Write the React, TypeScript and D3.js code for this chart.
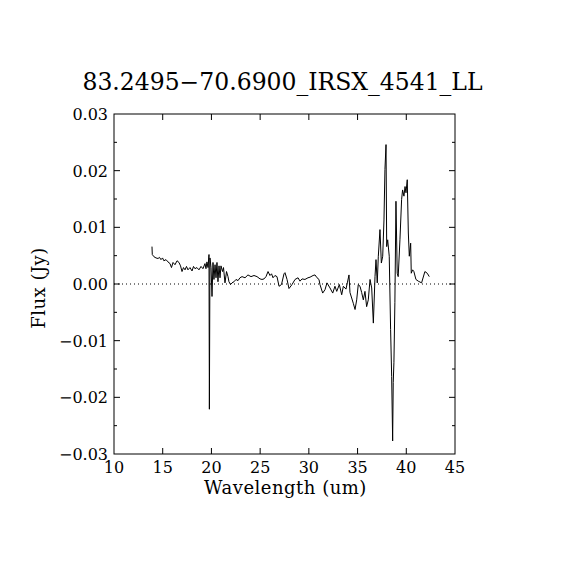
import React from 'react';
import * as d3 from 'd3';

const title = '83.2495\u221270.6900_IRSX_4541_LL';
const xLabel = 'Wavelength (um)';
const yLabel = 'Flux (Jy)';

const xTicks = [10, 15, 20, 25, 30, 35, 40, 45];
const yTicks = [-0.03, -0.02, -0.01, 0, 0.01, 0.02, 0.03];
const yMinorTicks = [-0.025, -0.015, -0.005, 0.005, 0.015, 0.025];

const wavelength = [
  13.90, 13.93, 14.11, 14.31, 14.52, 14.67, 14.82, 14.98, 15.12, 15.34,
  15.54, 15.75, 15.90, 16.06, 16.26, 16.47, 16.67, 16.83, 16.98, 17.13,
  17.29, 17.44, 17.59, 17.80, 18.01, 18.16, 18.31, 18.51, 18.72, 18.93,
  19.13, 19.34, 19.44, 19.54, 19.65, 19.75, 19.79, 19.85, 19.96, 20.06,
  20.16, 20.26, 20.37, 20.47, 20.57, 20.67, 20.78, 20.88, 20.98, 21.14,
  21.24, 21.39, 21.55, 21.70, 21.80, 21.96, 22.11, 22.32, 22.52, 22.73,
  22.93, 23.14, 23.45, 23.75, 24.06, 24.37, 24.68, 24.99, 25.19, 25.40,
  25.60, 25.81, 26.01, 26.17, 26.32, 26.52, 26.73, 26.94, 27.19, 27.45,
  27.55, 27.76, 27.96, 28.27, 28.58, 28.89, 29.09, 29.30, 29.60, 29.91,
  30.12, 30.43, 30.63, 30.84, 31.04, 31.14, 31.42, 31.66, 31.86, 32.17,
  32.45, 32.68, 32.86, 33.13, 33.37, 33.54, 33.81, 33.95, 34.12, 34.22,
  34.56, 34.74, 34.91, 35.07, 35.25, 35.42, 35.59, 35.76, 35.93, 36.10,
  36.28, 36.45, 36.62, 36.79, 36.89, 37.02, 37.13, 37.30, 37.44, 37.58,
  37.71, 37.81, 37.92, 37.99, 38.09, 38.25, 38.39, 38.50, 38.60, 38.66,
  38.73, 38.83, 38.94, 39.07, 39.17, 39.35, 39.52, 39.62, 39.76, 39.87,
  39.97, 40.10, 40.21, 40.31, 40.45, 40.51, 40.65, 40.78, 40.99, 41.23,
  41.57, 41.91, 42.15, 42.36,
];

const flux = [
  0.0066, 0.0052, 0.0048, 0.0046, 0.0045, 0.0047, 0.0043, 0.0046, 0.0041, 0.0043,
  0.0039, 0.0036, 0.0029, 0.0038, 0.0034, 0.0041, 0.0038, 0.0032, 0.0022, 0.0029,
  0.0025, 0.0031, 0.0025, 0.0029, 0.0023, 0.0031, 0.0027, 0.0029, 0.0025, 0.0031,
  0.0027, 0.0036, 0.0027, 0.0039, 0.0029, 0.0052, -0.0221, 0.0046, 0.0029, -0.0022,
  0.0038, 0.0008, 0.0034, 0.0011, 0.0038, 0.0004, 0.0032, 0.0011, 0.0032, 0.0022,
  0.0029, 0.0002, 0.0022, 0.0013, 0.0004, -0.0001, 0.0002, 0.0004, 0.0008, 0.0006,
  0.0011, 0.0013, 0.0011, 0.0016, 0.0013, 0.0015, 0.0013, 0.0009, 0.0008, 0.0009,
  0.0013, 0.0022, 0.0015, 0.0018, 0.0011, 0.0015, 0.0013, -0.0004, -0.0001, 0.0018,
  0.0020, 0.0008, -0.0008, -0.0001, 0.0008, 0.0011, 0.0005, 0.0009, 0.0008, 0.0011,
  0.0012, 0.0015, 0.0016, 0.0011, 0.0008, -0.0001, -0.0016, -0.0010, 0.0002, -0.0007,
  -0.0016, -0.0004, -0.0013, -0.0001, -0.0019, -0.0004, -0.0009, 0.0002, 0.0016, -0.0015,
  -0.0034, -0.0045, -0.0028, -0.0001, -0.0004, -0.0015, -0.0028, -0.0013, -0.0040, -0.0028,
  0.0008, -0.0007, -0.0069, 0.0013, 0.0043, 0.0002, 0.0049, 0.0096, 0.0037, 0.0049,
  0.0113, 0.0202, 0.0246, 0.0066, 0.0078, 0.0049, -0.0080, -0.0163, -0.0277, -0.0174,
  -0.0139, -0.0033, 0.0146, 0.0019, 0.0013, 0.0078, 0.0149, 0.0166, 0.0155, 0.0172,
  0.0161, 0.0184, 0.0090, 0.0049, 0.0072, 0.0019, 0.0025, 0.0022, 0.0008, 0.0005,
  0.0002, 0.0022, 0.0019, 0.0013,
];

const W = 570;
const H = 570;
const margin = { top: 114, right: 115, bottom: 116, left: 114 };
const font = '"DejaVu Serif", serif';

export default function App() {
  const x = d3.scaleLinear().domain([10, 45]).range([margin.left, W - margin.right]);
  const y = d3.scaleLinear().domain([-0.03, 0.03]).range([H - margin.bottom, margin.top]);

  const points = wavelength.map((w, i) => [w, flux[i]] as [number, number]);
  const line = d3.line<[number, number]>()
    .x(d => x(d[0]))
    .y(d => y(d[1]));

  const [x0, x1] = x.range();
  const [yb, yt] = y.range();
  const major = 6;
  const minor = 3;

  return (
    <div style={{ position: 'absolute', left: 0, top: 0 }}>
      <svg width={W} height={H} style={{ display: 'block', background: '#fff' }}>
        <text x={(x0 + x1) / 2 - 2} y={90} textAnchor="middle" fontFamily={font} fontSize={23.5} fill="#000">
          {title}
        </text>

        {/* zero line */}
        <line x1={x0} x2={x1} y1={y(0)} y2={y(0)} stroke="#000" strokeWidth={1} strokeDasharray="1,3" />

        {/* spectrum */}
        <path d={line(points) || ''} fill="none" stroke="#000" strokeWidth={1} strokeLinejoin="miter" />

        {/* frame */}
        <rect x={x0} y={yt} width={x1 - x0} height={yb - yt} fill="none" stroke="#000" strokeWidth={1} />

        {xTicks.slice(1, -1).map(t => (
          <g key={'xt' + t}>
            <line x1={x(t)} x2={x(t)} y1={yb} y2={yb - major} stroke="#000" />
            <line x1={x(t)} x2={x(t)} y1={yt} y2={yt + major} stroke="#000" />
          </g>
        ))}
        {yTicks.slice(1, -1).map(t => (
          <g key={'yt' + t}>
            <line x1={x0} x2={x0 + major} y1={y(t)} y2={y(t)} stroke="#000" />
            <line x1={x1} x2={x1 - major} y1={y(t)} y2={y(t)} stroke="#000" />
          </g>
        ))}
        {yMinorTicks.map(t => (
          <g key={'ym' + t}>
            <line x1={x0} x2={x0 + minor} y1={y(t)} y2={y(t)} stroke="#000" />
            <line x1={x1} x2={x1 - minor} y1={y(t)} y2={y(t)} stroke="#000" />
          </g>
        ))}

        {xTicks.map(t => (
          <text key={'xl' + t} x={x(t)} y={yb + 19} textAnchor="middle" fontFamily={font} fontSize={16} fill="#000">
            {t}
          </text>
        ))}
        {yTicks.map(t => (
          <text key={'yl' + t} x={x0 - 6} y={y(t) + 6} textAnchor="end" fontFamily={font} fontSize={16} fill="#000">
            {d3.format('.2f')(t).replace('-', '\u2212')}
          </text>
        ))}

        <text x={(x0 + x1) / 2 + 1} y={494} textAnchor="middle" fontFamily={font} fontSize={18} letterSpacing={0.5} fill="#000">
          {xLabel}
        </text>
        <text
          transform={`translate(45,${(yb + yt) / 2 + 4}) rotate(-90)`}
          textAnchor="middle"
          fontFamily={font}
          fontSize={18}
          letterSpacing={0.5}
          fill="#000"
        >
          {yLabel}
        </text>
      </svg>
    </div>
  );
}
